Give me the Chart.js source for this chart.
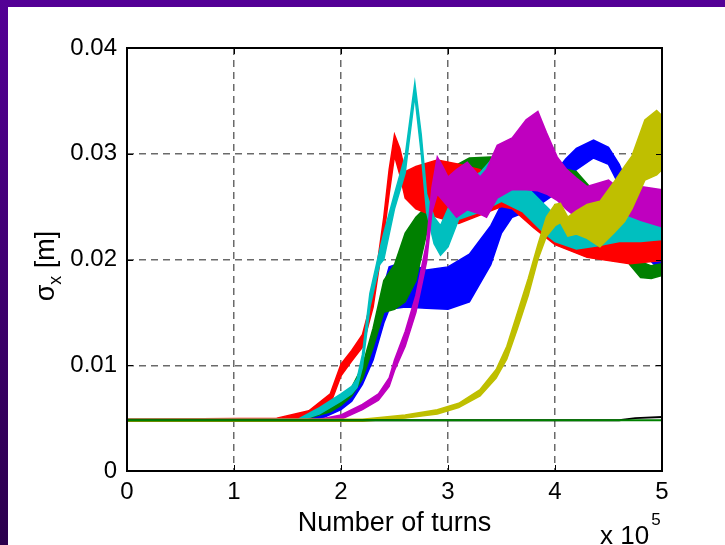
<!DOCTYPE html>
<html>
<head>
<meta charset="utf-8">
<script src="https://cdn.jsdelivr.net/npm/chart.js@4.4.1/dist/chart.umd.min.js"></script>
<style>
  html, body { margin: 0; padding: 0; background: #fff; }
  canvas { display: block; }
</style>
</head>
<body>
<canvas id="chart" width="725" height="545"></canvas>
<script>
// turns in units of 1e5, sigma_x in metres
const xTicks = [0, 1, 2, 3, 4, 5];
const yTicks = [0, 0.01, 0.02, 0.03, 0.04];

const blueX  = [0, 1.5, 1.8, 2.0, 2.1, 2.2, 2.3, 2.4, 2.45, 2.6, 2.8, 3.0, 3.2, 3.4, 3.5, 3.6, 3.8, 4.0, 4.1, 4.2, 4.36, 4.5, 4.6, 4.7, 4.8, 4.9, 5.0];
const blueLo = [0.0047, 0.0047, 0.0049, 0.0058, 0.0066, 0.0082, 0.0105, 0.0140, 0.0153, 0.0155, 0.0154, 0.0153, 0.0160, 0.0195, 0.0225, 0.0240, 0.0248, 0.0262, 0.0275, 0.0285, 0.0296, 0.0290, 0.0270, 0.0245, 0.0220, 0.0198, 0.0188];
const blueHi = [0.0049, 0.0049, 0.0052, 0.0064, 0.0073, 0.0092, 0.0120, 0.0175, 0.0193, 0.0198, 0.0190, 0.0193, 0.0205, 0.0232, 0.0252, 0.0258, 0.0265, 0.0282, 0.0295, 0.0305, 0.0313, 0.0306, 0.0290, 0.0266, 0.0242, 0.0222, 0.0210];

const greenX  = [0, 1.6, 1.9, 2.0, 2.1, 2.2, 2.3, 2.4, 2.5, 2.6, 2.7, 2.8, 2.9, 3.0, 3.2, 3.4, 3.6, 3.8, 4.0, 4.2, 4.4, 4.6, 4.7, 4.8, 4.9, 5.0];
const greenLo = [0.0047, 0.0047, 0.0056, 0.0062, 0.0071, 0.0087, 0.0117, 0.0150, 0.0153, 0.0160, 0.0180, 0.0225, 0.0250, 0.0265, 0.0282, 0.0283, 0.0278, 0.0270, 0.0272, 0.0266, 0.0242, 0.0212, 0.0195, 0.0183, 0.0182, 0.0185];
const greenHi = [0.0049, 0.0049, 0.0062, 0.0070, 0.0079, 0.0099, 0.0135, 0.0180, 0.0195, 0.0225, 0.0240, 0.0250, 0.0270, 0.0285, 0.0296, 0.0297, 0.0292, 0.0285, 0.0288, 0.0283, 0.0260, 0.0228, 0.0212, 0.0198, 0.0194, 0.0196];

const redX  = [0, 1.4, 1.7, 1.9, 2.0, 2.1, 2.2, 2.3, 2.4, 2.45, 2.5, 2.55, 2.6, 2.7, 2.9, 3.1, 3.3, 3.5, 3.6, 3.8, 4.0, 4.3, 4.7, 5.0];
const redLo = [0.0047, 0.0047, 0.0050, 0.0063, 0.0090, 0.0104, 0.0117, 0.0155, 0.0222, 0.0262, 0.0298, 0.0280, 0.0258, 0.0248, 0.0240, 0.0234, 0.0242, 0.0250, 0.0248, 0.0230, 0.0214, 0.0202, 0.0196, 0.0199];
const redHi = [0.0049, 0.0050, 0.0057, 0.0073, 0.0101, 0.0114, 0.0129, 0.0167, 0.0240, 0.0285, 0.0318, 0.0305, 0.0283, 0.0288, 0.0294, 0.0290, 0.0285, 0.0268, 0.0258, 0.0245, 0.0230, 0.0220, 0.0222, 0.0225];

const cyanX  = [0, 1.6, 1.8, 2.0, 2.1, 2.15, 2.2, 2.27, 2.36, 2.4, 2.5, 2.6, 2.69, 2.75, 2.8, 2.87, 2.93, 3.0, 3.1, 3.3, 3.5, 3.7, 3.9, 4.0, 4.2, 4.4, 4.6, 4.8, 5.0];
const cyanLo = [0.0047, 0.0047, 0.0054, 0.0066, 0.0073, 0.0079, 0.0098, 0.0155, 0.0195, 0.0200, 0.0248, 0.0282, 0.0355, 0.0300, 0.0245, 0.0215, 0.0204, 0.0212, 0.0238, 0.0245, 0.0255, 0.0245, 0.0225, 0.0217, 0.0210, 0.0213, 0.0217, 0.0217, 0.0219];
const cyanHi = [0.0049, 0.0049, 0.0060, 0.0073, 0.0080, 0.0087, 0.0110, 0.0168, 0.0208, 0.0225, 0.0262, 0.0298, 0.0367, 0.0318, 0.0262, 0.0240, 0.0232, 0.0248, 0.0272, 0.0282, 0.0305, 0.0272, 0.0252, 0.0242, 0.0236, 0.0241, 0.0246, 0.0239, 0.0232];

const magentaX  = [0, 1.8, 2.0, 2.2, 2.35, 2.45, 2.5, 2.6, 2.7, 2.8, 2.85, 2.9, 2.95, 3.0, 3.08, 3.18, 3.3, 3.36, 3.46, 3.6, 3.73, 3.84, 3.92, 4.02, 4.11, 4.2, 4.3, 4.5, 4.65, 4.8, 5.0];
const magentaLo = [0.0047, 0.0047, 0.0049, 0.0058, 0.0067, 0.0080, 0.0095, 0.0118, 0.0150, 0.0198, 0.0245, 0.0262, 0.0256, 0.0250, 0.0240, 0.0247, 0.0243, 0.0240, 0.0258, 0.0266, 0.0266, 0.0265, 0.0262, 0.0256, 0.0247, 0.0240, 0.0250, 0.0250, 0.0243, 0.0237, 0.0231];
const magentaHi = [0.0049, 0.0049, 0.0053, 0.0063, 0.0073, 0.0088, 0.0105, 0.0132, 0.0166, 0.0216, 0.0268, 0.0297, 0.0288, 0.0278, 0.0285, 0.0292, 0.0278, 0.0285, 0.0308, 0.0315, 0.0332, 0.0340, 0.0320, 0.0297, 0.0285, 0.0277, 0.0269, 0.0275, 0.0263, 0.0269, 0.0266];

const yellowX  = [0, 2.2, 2.6, 2.9, 3.1, 3.3, 3.45, 3.55, 3.65, 3.75, 3.84, 3.92, 4.0, 4.05, 4.12, 4.2, 4.3, 4.42, 4.55, 4.65, 4.72, 4.84, 4.95, 5.0];
const yellowLo = [0.0047, 0.0047, 0.0050, 0.0054, 0.0060, 0.0071, 0.0088, 0.0106, 0.0135, 0.0166, 0.0200, 0.0222, 0.0232, 0.0235, 0.0222, 0.0224, 0.0220, 0.0212, 0.0225, 0.0236, 0.0248, 0.0275, 0.0280, 0.0285];
const yellowHi = [0.0049, 0.0049, 0.0053, 0.0058, 0.0064, 0.0077, 0.0096, 0.0118, 0.0150, 0.0182, 0.0214, 0.0240, 0.0252, 0.0253, 0.0240, 0.0246, 0.0252, 0.0255, 0.0273, 0.0288, 0.0298, 0.0332, 0.0341, 0.0336];

const blackX = [0, 4.6, 4.75, 5.0];
const blackY = [0.0048, 0.0048, 0.0050, 0.0051];

const flatX = [0, 5.0];
const flatY = [0.0048, 0.0048];

const FONT = 'Liberation Sans, Arial, sans-serif';

function pts(xs, ys) {
  return xs.map((x, i) => ({ x: x, y: ys[i] }));
}

function band(color, xs, lo, hi) {
  return [
    { data: pts(xs, hi), borderColor: color, backgroundColor: color, borderWidth: 1.5, fill: '+1' },
    { data: pts(xs, lo), borderColor: color, backgroundColor: color, borderWidth: 1.5, fill: false }
  ];
}

function line(color, xs, ys) {
  return { data: pts(xs, ys), borderColor: color, borderWidth: 2, fill: false };
}

// first dataset ends up on top, so the order is reversed from the plot order
const datasets = [
  line('#008000', flatX, flatY),
  line('#000000', blackX, blackY),
  ...band('#bfbf00', yellowX, yellowLo, yellowHi),
  ...band('#bf00bf', magentaX, magentaLo, magentaHi),
  ...band('#00bfbf', cyanX, cyanLo, cyanHi),
  ...band('#ff0000', redX, redLo, redHi),
  ...band('#008000', greenX, greenLo, greenHi),
  ...band('#0000ff', blueX, blueLo, blueHi)
];

const framePlugin = {
  id: 'frame',
  beforeDraw(chart) {
    const ctx = chart.ctx;
    const g = ctx.createLinearGradient(0, 0, 0, chart.height);
    g.addColorStop(0, '#540096');
    g.addColorStop(1, '#2b004c');
    ctx.save();
    ctx.fillStyle = g;
    ctx.fillRect(0, 0, chart.width, chart.height);
    ctx.fillStyle = '#ffffff';
    ctx.fillRect(8, 7, chart.width - 8, chart.height - 7);
    ctx.restore();
  },
  afterDraw(chart) {
    const ctx = chart.ctx;
    const a = chart.chartArea;
    const xs = chart.scales.x;
    const ys = chart.scales.y;
    ctx.save();
    ctx.strokeStyle = '#000';
    ctx.lineWidth = 2;
    ctx.strokeRect(a.left, a.top, a.right - a.left, a.bottom - a.top);

    // inward tick marks, matlab style
    ctx.lineWidth = 1;
    ctx.beginPath();
    xTicks.forEach(v => {
      const px = Math.round(xs.getPixelForValue(v)) + 0.5;
      ctx.moveTo(px, a.bottom); ctx.lineTo(px, a.bottom - 6);
      ctx.moveTo(px, a.top); ctx.lineTo(px, a.top + 6);
    });
    yTicks.forEach(v => {
      const py = Math.round(ys.getPixelForValue(v)) + 0.5;
      ctx.moveTo(a.left, py); ctx.lineTo(a.left + 6, py);
      ctx.moveTo(a.right, py); ctx.lineTo(a.right - 6, py);
    });
    ctx.stroke();

    ctx.fillStyle = '#000';
    ctx.textBaseline = 'alphabetic';

    // x title
    ctx.font = '27px ' + FONT;
    ctx.textAlign = 'center';
    ctx.fillText('Number of turns', (a.left + a.right) / 2, 531);

    // exponent
    ctx.textAlign = 'left';
    ctx.font = '26px ' + FONT;
    ctx.fillText('x 10', 600, 544);
    const w10 = ctx.measureText('x 10').width;
    ctx.font = '17px ' + FONT;
    ctx.fillText('5', 600 + w10 + 2, 525);

    // y title: sigma with subscript x
    ctx.translate(54, 266);
    ctx.rotate(-Math.PI / 2);
    ctx.font = '27px ' + FONT;
    const wS = ctx.measureText('\u03c3').width;
    const wM = ctx.measureText(' [m]').width;
    ctx.font = '18px ' + FONT;
    const wX = ctx.measureText('x').width;
    let cx = -(wS + wX + wM) / 2;
    ctx.font = '27px ' + FONT;
    ctx.fillText('\u03c3', cx, 0);
    cx += wS;
    ctx.font = '18px ' + FONT;
    ctx.fillText('x', cx, 7);
    cx += wX;
    ctx.font = '27px ' + FONT;
    ctx.fillText(' [m]', cx, 0);
    ctx.restore();
  }
};

const hideEdge = (lo, hi) => c =>
  (c.tick && (Math.abs(c.tick.value - lo) < 1e-9 || Math.abs(c.tick.value - hi) < 1e-9)) ? 'rgba(0,0,0,0)' : '#6a6a6a';

new Chart(document.getElementById('chart').getContext('2d'), {
  type: 'line',
  data: { datasets },
  options: {
    responsive: false,
    animation: false,
    devicePixelRatio: 1,
    layout: { padding: { left: 0, top: 48, right: 63, bottom: 0 } },
    elements: { point: { radius: 0 }, line: { tension: 0 } },
    plugins: {
      legend: { display: false },
      tooltip: { enabled: false },
      filler: { propagate: false }
    },
    scales: {
      x: {
        type: 'linear',
        min: 0,
        max: 5,
        afterFit: s => { s.height = 74; },
        afterBuildTicks: s => { s.ticks = xTicks.map(v => ({ value: v })); },
        ticks: { color: '#000', padding: 7, font: { family: FONT, size: 24 }, maxRotation: 0 },
        grid: { color: hideEdge(0, 5), lineWidth: 1.5, drawTicks: false },
        border: { display: false, dash: [7, 5] }
      },
      y: {
        type: 'linear',
        min: 0,
        max: 0.04,
        afterFit: s => { s.width = 127; },
        afterBuildTicks: s => { s.ticks = yTicks.map(v => ({ value: v })); },
        ticks: {
          color: '#000',
          padding: 10,
          font: { family: FONT, size: 24 },
          callback: v => v === 0 ? '0' : v.toFixed(2)
        },
        grid: { color: hideEdge(0, 0.04), lineWidth: 1.5, drawTicks: false },
        border: { display: false, dash: [7, 5] }
      }
    }
  },
  plugins: [framePlugin]
});
</script>
</body>
</html>
